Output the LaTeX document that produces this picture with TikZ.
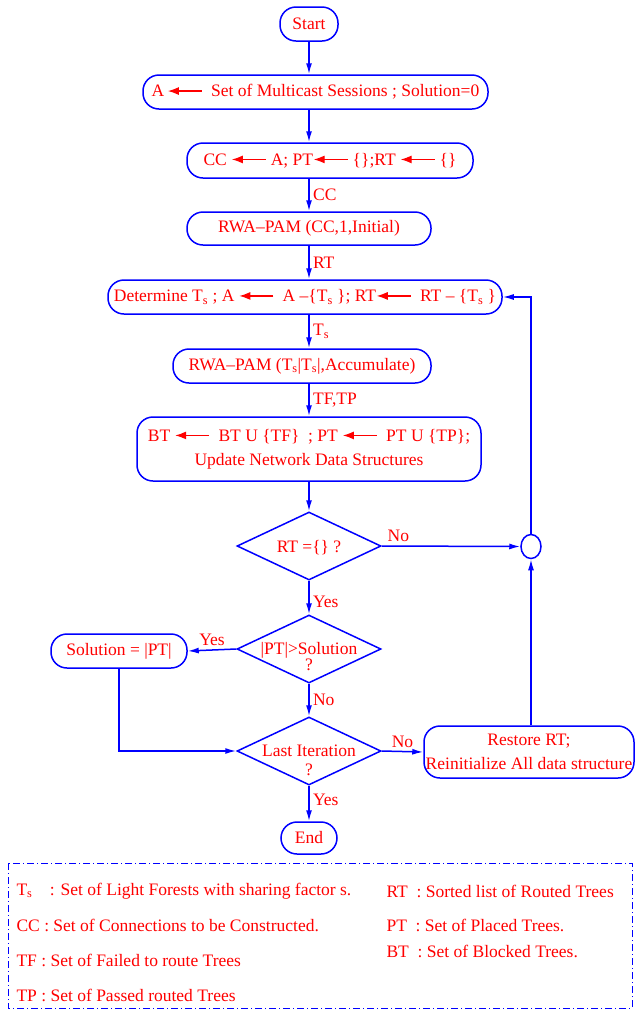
\documentclass[tikz,border=0pt]{standalone}
\usepackage{fontspec}
\setmainfont{Liberation Serif}
\usetikzlibrary{arrows.meta,shapes.geometric}
\newcommand{\larr}{\tikz[baseline=0pt]\draw[red,line width=1.2pt,-{Latex[length=11pt,width=8pt]}] (34pt,0.33em)--(0pt,0.33em);}
\newcommand{\Ts}{T\textsubscript{s}}
\begin{document}
\begin{tikzpicture}[x=1pt,y=-1pt,
    every node/.style={text=red,font=\fontsize{17.5}{24}\selectfont},
    proc/.style={draw=blue,line width=1.5pt,rounded corners=16pt,inner sep=0pt,align=center},
    dec/.style={draw=blue,line width=1.5pt,diamond,inner sep=0pt,minimum width=144pt,minimum height=68pt},
    flow/.style={blue,line width=1.5pt,-{Latex[length=11pt,width=6pt]}}]
    \useasboundingbox (0,0) rectangle (636,1013);
    \node[proc,minimum width=58pt,minimum height=34pt] (start) at (309,24) {Start};
    \node[proc,minimum width=345pt,minimum height=34pt] (box1) at (315.5,92) {A\,\larr\ \ Set of Multicast Sessions ; Solution=0};
    \node[proc,minimum width=286pt,minimum height=35pt] (box2) at (330,160.5) {CC \larr\ A; PT\larr\ \{\};RT \larr\ \{\}};
    \node[proc,minimum width=244pt,minimum height=33pt] (box3) at (309,228.5) {RWA--PAM (CC,1,Initial)};
    \node[proc,minimum width=394pt,minimum height=34pt] (box4) at (305,297) {Determine \Ts\ ; A \larr\ \ A --\{\Ts\ \}; RT\larr\ \ RT -- \{\Ts\ \}};
    \node[proc,minimum width=258pt,minimum height=34pt] (box5) at (302,366) {RWA--PAM (\Ts|\Ts|,Accumulate)};
    \node[proc,minimum width=344pt,minimum height=64pt] (box6) at (309,449) {BT \larr\ \ BT U \{TF\}\ \ ; PT \larr\ \ PT U \{TP\};\\Update Network Data Structures};
    \node[dec,label={[yshift=-2pt]center:RT =\{\} ?}] (d1) at (309,546) {};
    \node[draw=blue,line width=1.5pt,ellipse,inner sep=0pt,minimum width=20pt,minimum height=24pt] (join) at (531,546.5) {};
    \node[dec,label={[align=center,yshift=-8pt,font=\fontsize{17.5}{16}\selectfont]center:|PT|>Solution\\?}] (d2) at (309,649) {};
    \node[proc,minimum width=136pt,minimum height=34pt] (sol) at (119,651) {Solution = |PT|};
    \node[dec,label={[align=center,yshift=-9pt,font=\fontsize{17.5}{19}\selectfont]center:Last Iteration\\?}] (d3) at (309,751) {};
    \node[proc,minimum width=210pt,minimum height=52pt] (restore) at (529,752) {Restore RT;\\Reinitialize All data structure};
    \node[proc,minimum width=56pt,minimum height=32pt] (end) at (309,838) {End};
    \draw[flow] (start) -- (start |- box1.north);
    \draw[flow] (box1.south -| start) -- (box2.north -| start);
    \draw[flow] (box2.south -| start) -- node[right]{CC} (box3.north -| start);
    \draw[flow] (box3.south -| start) -- node[right]{RT} (box4.north -| start);
    \draw[flow] (box4.south -| start) -- node[right]{\Ts} (box5.north -| start);
    \draw[flow] (box5.south -| start) -- node[right]{TF,TP} (box6.north -| start);
    \draw[flow] (box6.south -| start) -- (d1.north);
    \draw[flow] (d1.east) -- node[pos=0.12,above]{No} (join.west);
    \draw[flow] (d1.south) -- node[right,yshift=-4pt]{Yes} (d2.north);
    \draw[flow] (d2.west) -- node[above]{Yes} (sol.east);
    \draw[flow] (d2.south) -- node[right]{No} (d3.north);
    \draw[flow] (sol.south) |- (d3.west);
    \draw[flow] (d3.east) -- node[above]{No} (restore.west);
    \draw[flow] (d3.south) -- node[right,yshift=4pt]{Yes} (end.north);
    \draw[flow] (restore.north -| join) -- (join.south);
    \draw[flow] (join.north) |- (box4.east);
    \draw[blue,line width=0.8pt,dash pattern=on 7pt off 3pt on 1pt off 3pt] (8,863) rectangle (632,1008);
    \node[anchor=west] (keyts) at (13,891) {\Ts\quad : Set of Light Forests with sharing factor s.};
    \node[anchor=west] (keycc) at (13,925) {CC : Set of Connections to be Constructed.};
    \node[anchor=west] (keytf) at (13,960) {TF : Set of Failed to route Trees};
    \node[anchor=west] (keytp) at (13,995) {TP : Set of Passed routed Trees};
    \node[anchor=west] (keyrt) at (383,891) {RT\ \ : Sorted list of Routed Trees};
    \node[anchor=west] (keypt) at (383,925) {PT\ \ : Set of Placed Trees.};
    \node[anchor=west] (keybt) at (383,951) {BT\ \ : Set of Blocked Trees.};
\end{tikzpicture}
\end{document}
